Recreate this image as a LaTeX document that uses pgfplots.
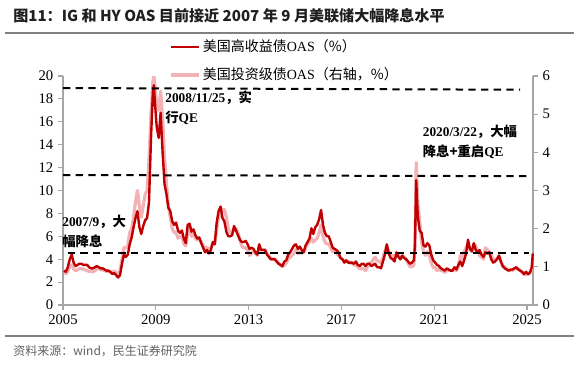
\documentclass[border=0pt]{standalone}
\usepackage{fontspec}
\setmainfont{Liberation Serif}
\newfontfamily\cjk{Noto Sans CJK SC}
\usepackage{pgfplots}
\usepackage{pgfplotstable}
\pgfplotsset{compat=1.18}
\definecolor{hyred}{RGB}{192,0,0}
\definecolor{igpink}{RGB}{242,178,182}
\definecolor{axgray}{RGB}{166,166,166}
\definecolor{rulegray}{RGB}{128,128,128}
\definecolor{srcgray}{RGB}{96,96,96}

\pgfplotstableread{
t hy ig
2005.042 3.0 0.85
2005.125 2.9 0.82
2005.208 3.3 0.88
2005.292 4.0 1.00
2005.375 4.4 1.05
2005.458 3.7 0.95
2005.542 3.4 0.90
2005.625 3.5 0.92
2005.708 3.6 0.95
2005.792 3.6 0.95
2005.875 3.5 0.94
2005.958 3.5 0.92
2006.042 3.5 0.90
2006.125 3.3 0.88
2006.208 3.2 0.88
2006.292 3.2 0.87
2006.375 3.3 0.90
2006.458 3.4 0.95
2006.542 3.3 0.95
2006.625 3.2 0.92
2006.708 3.2 0.92
2006.792 3.1 0.90
2006.875 3.0 0.88
2006.958 3.0 0.88
2007.042 2.9 0.87
2007.125 2.7 0.85
2007.208 2.8 0.90
2007.292 2.6 0.85
2007.375 2.4 0.82
2007.458 2.6 0.90
2007.542 3.6 1.20
2007.625 4.4 1.50
2007.708 4.2 1.50
2007.792 4.4 1.55
2007.875 5.3 1.90
2007.958 5.9 2.00
2008.042 6.8 2.30
2008.125 7.6 2.70
2008.208 8.2 3.00
2008.292 6.8 2.60
2008.375 6.2 2.30
2008.458 6.9 2.60
2008.542 7.4 2.90
2008.625 7.6 3.00
2008.708 9.0 3.80
2008.792 14.5 5.00
2008.875 18.6 5.85
2008.917 19.2 6.00
2008.958 17.8 5.80
2009.042 15.5 5.20
2009.125 14.6 5.10
2009.208 16.8 5.60
2009.292 13.4 4.90
2009.375 10.6 3.90
2009.458 9.7 3.20
2009.542 8.5 2.60
2009.625 8.2 2.30
2009.708 7.3 2.00
2009.792 7.0 1.90
2009.875 7.2 1.90
2009.958 6.5 1.75
2010.042 6.3 1.80
2010.125 6.5 1.80
2010.208 5.8 1.60
2010.292 5.4 1.55
2010.375 7.0 1.90
2010.458 7.1 2.00
2010.542 6.4 1.80
2010.625 6.6 1.85
2010.708 6.1 1.75
2010.792 5.8 1.70
2010.875 5.9 1.75
2010.958 5.4 1.65
2011.042 5.0 1.55
2011.125 4.6 1.50
2011.208 4.8 1.50
2011.292 4.5 1.45
2011.375 4.8 1.50
2011.458 5.5 1.60
2011.542 5.3 1.60
2011.625 7.2 2.00
2011.708 8.2 2.30
2011.792 8.6 2.35
2011.875 7.6 2.50
2011.958 7.3 2.50
2012.042 6.4 2.30
2012.125 6.0 2.00
2012.208 6.0 1.90
2012.292 6.1 1.90
2012.375 6.9 2.00
2012.458 6.5 2.00
2012.542 6.1 1.90
2012.625 5.7 1.70
2012.708 5.5 1.55
2012.792 5.5 1.50
2012.875 5.6 1.50
2012.958 5.3 1.45
2013.042 4.9 1.30
2013.125 5.0 1.35
2013.208 4.9 1.40
2013.292 4.6 1.35
2013.375 4.4 1.30
2013.458 5.3 1.55
2013.542 4.8 1.45
2013.625 4.8 1.45
2013.708 4.8 1.45
2013.792 4.4 1.35
2013.875 4.2 1.30
2013.958 4.0 1.20
2014.042 4.0 1.20
2014.125 4.0 1.20
2014.208 3.8 1.15
2014.292 3.6 1.10
2014.375 3.5 1.05
2014.458 3.4 1.00
2014.542 3.8 1.05
2014.625 3.9 1.10
2014.708 4.4 1.20
2014.792 4.6 1.25
2014.875 4.9 1.30
2014.958 5.2 1.35
2015.042 5.3 1.45
2015.125 4.9 1.35
2015.208 5.1 1.40
2015.292 4.8 1.35
2015.375 4.6 1.40
2015.458 5.2 1.50
2015.542 5.5 1.60
2015.625 5.8 1.65
2015.708 6.7 1.75
2015.792 6.2 1.65
2015.875 6.8 1.70
2015.958 7.0 1.75
2016.042 7.5 1.90
2016.125 8.3 2.10
2016.208 7.0 1.80
2016.292 6.3 1.65
2016.375 6.0 1.60
2016.458 6.0 1.60
2016.542 5.5 1.50
2016.625 5.0 1.40
2016.708 4.9 1.40
2016.792 4.8 1.35
2016.875 4.6 1.30
2016.958 4.1 1.25
2017.042 4.0 1.20
2017.125 3.7 1.15
2017.208 3.9 1.15
2017.292 3.7 1.15
2017.375 3.7 1.10
2017.458 3.7 1.10
2017.542 3.6 1.05
2017.625 3.8 1.05
2017.708 3.5 1.00
2017.792 3.4 0.95
2017.875 3.6 0.95
2017.958 3.6 0.95
2018.042 3.4 0.90
2018.125 3.6 1.00
2018.208 3.6 1.10
2018.292 3.4 1.10
2018.375 3.5 1.20
2018.458 3.6 1.25
2018.542 3.3 1.15
2018.625 3.3 1.15
2018.708 3.2 1.10
2018.792 3.8 1.25
2018.875 4.4 1.40
2018.958 5.3 1.55
2019.042 4.5 1.40
2019.125 4.1 1.30
2019.208 4.0 1.30
2019.292 3.8 1.20
2019.375 4.6 1.35
2019.458 4.2 1.30
2019.542 4.0 1.20
2019.625 4.3 1.30
2019.708 4.1 1.25
2019.792 4.0 1.20
2019.875 3.8 1.10
2019.958 3.6 1.00
2020.042 3.7 1.00
2020.125 3.9 1.05
2020.170 5.2 1.45
2020.225 10.9 3.73
2020.292 7.8 2.70
2020.375 6.5 2.20
2020.458 6.3 1.65
2020.542 5.2 1.40
2020.625 5.1 1.30
2020.708 5.4 1.40
2020.792 5.2 1.30
2020.875 4.4 1.10
2020.958 3.9 0.98
2021.042 3.7 0.98
2021.125 3.5 0.90
2021.208 3.4 0.95
2021.292 3.2 0.90
2021.375 3.1 0.90
2021.458 3.0 0.85
2021.542 3.2 0.90
2021.625 3.1 0.90
2021.708 3.0 0.90
2021.792 3.0 0.90
2021.875 3.3 0.95
2021.958 3.1 0.90
2022.042 3.5 1.00
2022.125 3.8 1.30
2022.208 3.4 1.20
2022.292 3.9 1.40
2022.375 4.5 1.50
2022.458 5.7 1.60
2022.542 4.9 1.45
2022.625 4.7 1.40
2022.708 5.4 1.60
2022.792 4.8 1.55
2022.875 4.6 1.40
2022.958 4.8 1.30
2023.042 4.4 1.25
2023.125 4.2 1.20
2023.208 4.6 1.50
2023.292 4.5 1.45
2023.375 4.6 1.40
2023.458 4.0 1.30
2023.542 3.7 1.20
2023.625 3.8 1.20
2023.708 4.0 1.20
2023.792 4.3 1.30
2023.875 3.8 1.15
2023.958 3.4 1.00
2024.042 3.2 1.00
2024.125 3.1 0.95
2024.208 3.0 0.90
2024.292 3.1 0.90
2024.375 3.1 0.90
2024.458 3.2 0.95
2024.542 3.3 0.95
2024.625 3.1 0.95
2024.708 3.0 0.90
2024.792 2.9 0.85
2024.875 2.7 0.80
2024.958 2.9 0.80
2025.042 2.7 0.80
2025.125 2.8 0.85
2025.208 3.3 0.95
2025.250 4.5 1.20
}\oasdata

\pgfplotsset{
  basestyle/.style={
    width=352.5pt, height=171.75pt, scale only axis,
    at={(0,0)}, anchor=south west,
    xmin=2005, xmax=2025.26,
    tick align=outside,
    major tick length=3.75pt,
    every tick/.style={axgray, line width=0.8pt},
    axis line style={axgray, line width=0.8pt},
    tick label style={font=\fontsize{11}{12}\selectfont, black},
    /pgf/number format/assume math mode=true,
    /pgf/number format/1000 sep={},
  }
}

\begin{document}
\begin{tikzpicture}[x=1pt,y=1pt]
\useasboundingbox (-47.25,-46.5) rectangle (383.25,228.75);

% title and rules
\node[anchor=base west, inner sep=0pt, text=black!88] at (-37.5,212.5)
  {\cjk\bfseries\fontsize{11.3}{13}\selectfont 图11：IG 和 HY OAS 目前接近 2007 年 9 月美联储大幅降息水平};
\draw[rulegray, line width=1.2pt] (-43.5,204) -- (383.25,204);
\draw[rulegray, line width=1.2pt] (-43.5,-23.25) -- (383.25,-23.25);
\node[anchor=west, inner sep=0pt, text=srcgray] at (-37.5,-34.5)
  {\cjk\fontsize{9}{11}\selectfont 资料来源：wind，民生证券研究院};

% right axis: IG
\begin{axis}[basestyle,
  ymin=0, ymax=6, ytick={0,1,...,6},
  axis y line*=right, axis x line=none,
  clip=true]
\addplot[igpink, line width=2.4pt, line join=round] table[x=t, y=ig]{\oasdata};
\end{axis}

% left axis: HY
\begin{axis}[basestyle,
  ymin=0, ymax=20, ytick={0,2,...,20},
  axis y line*=left, axis x line*=bottom,
  xtick={2005,2009,2013,2017,2021,2025},
  legend cell align=left,
  legend style={draw=none, fill=none, at={(0.225,1.17)}, anchor=north west,
    inner sep=0pt, row sep=6.5pt,
    font=\fontsize{10.5}{12}\selectfont},
  legend image code/.code={\draw[#1] (0pt,0pt) -- (21pt,0pt);},
  clip=false]
\addplot[hyred, line width=1.8pt, line join=round] table[x=t, y=hy]{\oasdata};
\addlegendentry{{\cjk 美国高收益债}OAS{\cjk （\%）}}
\addlegendimage{igpink, line width=2.4pt}
\addlegendentry{{\cjk 美国投资级债}OAS{\cjk （右轴，\%）}}
\addplot[black, line width=1.5pt, dash pattern=on 5.5pt off 4pt, forget plot] coordinates {(2005,18.95) (2024.7,18.8)};
\addplot[black, line width=1.5pt, dash pattern=on 5.5pt off 4pt, forget plot] coordinates {(2005,11.35) (2025.0,11.25)};
\addplot[black, line width=1.5pt, dash pattern=on 5.5pt off 4pt, forget plot] coordinates {(2005.2,4.5) (2025.1,4.5)};
\node[anchor=north west, align=left, inner sep=0pt, font=\bfseries\fontsize{10}{15}\selectfont]
  at (axis cs:2009.4,18.7) {2008/11/25{\cjk\bfseries ，实}\\{\cjk\bfseries 行}QE};
\node[anchor=north west, align=left, inner sep=0pt, font=\bfseries\fontsize{10}{15}\selectfont]
  at (axis cs:2004.96,7.9) {2007/9{\cjk\bfseries ，大}\\{\cjk\bfseries 幅降息}};
\node[anchor=north west, align=left, inner sep=0pt, font=\bfseries\fontsize{10}{15}\selectfont]
  at (axis cs:2020.5,15.7) {2020/3/22{\cjk\bfseries ，大幅}\\{\cjk\bfseries 降息+重启}QE};
\end{axis}
\end{tikzpicture}
\end{document}
